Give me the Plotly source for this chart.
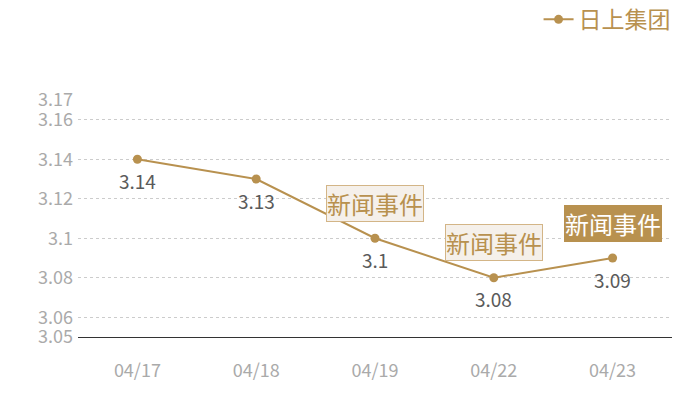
import plotly.graph_objects as go

dates = ["04/17", "04/18", "04/19", "04/22", "04/23"]
values = [3.14, 3.13, 3.10, 3.08, 3.09]
label_texts = ["3.14", "3.13", "3.1", "3.08", "3.09"]
tick_vals = [3.05, 3.06, 3.08, 3.10, 3.12, 3.14, 3.16, 3.17]
tick_text = ["3.05", "3.06", "3.08", "3.1", "3.12", "3.14", "3.16", "3.17"]
event_dates = ["04/19", "04/22", "04/23"]
event_text = "新闻事件"
series_name = "日上集团"

gold = "#b8914f"
font_family = "Noto Sans CJK SC, Noto Sans, sans-serif"

fig = go.Figure()
fig.add_trace(go.Scatter(
    x=dates, y=values, mode="lines+markers", name=series_name,
    line=dict(color=gold, width=2), marker=dict(color=gold, size=9),
    cliponaxis=False,
))

for d, v, t in zip(dates, values, label_texts):
    fig.add_annotation(x=d, y=v, xref="x", yref="y", text=t, showarrow=False,
                       yshift=-21, font=dict(size=19, color="#5a5a5a", family=font_family))

for i, d in enumerate(event_dates):
    yv = values[dates.index(d)]
    last = i == len(event_dates) - 1
    fig.add_annotation(
        x=d, y=yv, xref="x", yref="y", text=event_text, showarrow=False,
        yshift=35, font=dict(size=24, color="#ffffff" if last else gold, family=font_family),
        bgcolor=gold if last else "#f5f0ea",
        bordercolor=gold if last else "#d3b587", borderwidth=1, borderpad=0,
    )

fig.update_layout(
    width=692, height=392, paper_bgcolor="white", plot_bgcolor="white",
    margin=dict(l=70, r=28, t=92, b=63, autoexpand=False),
    font=dict(family=font_family),
    showlegend=True,
    legend=dict(x=1.006, y=1.34, xref="paper", yref="paper", xanchor="right", yanchor="middle",
                font=dict(size=23, color=gold, family=font_family), orientation="h",
                bgcolor="rgba(0,0,0,0)", borderwidth=0, tracegroupgap=0),
    xaxis=dict(type="category", showgrid=False, zeroline=False, showline=True,
               linecolor="#333333", linewidth=1, ticks="", automargin=False,
               tickfont=dict(size=18, color="#aaaaaa", family=font_family),
               range=[-0.5, 4.5], ticklabelstandoff=17),
    yaxis=dict(range=[3.05, 3.17], tickvals=tick_vals, ticktext=tick_text,
               showgrid=True, gridcolor="#cccccc", griddash="dot", gridwidth=1,
               zeroline=False, showline=False, ticks="", automargin=False,
               ticklabelstandoff=4,
               tickfont=dict(size=18, color="#aaaaaa", family=font_family)),
)

fig.write_html("out.html")
